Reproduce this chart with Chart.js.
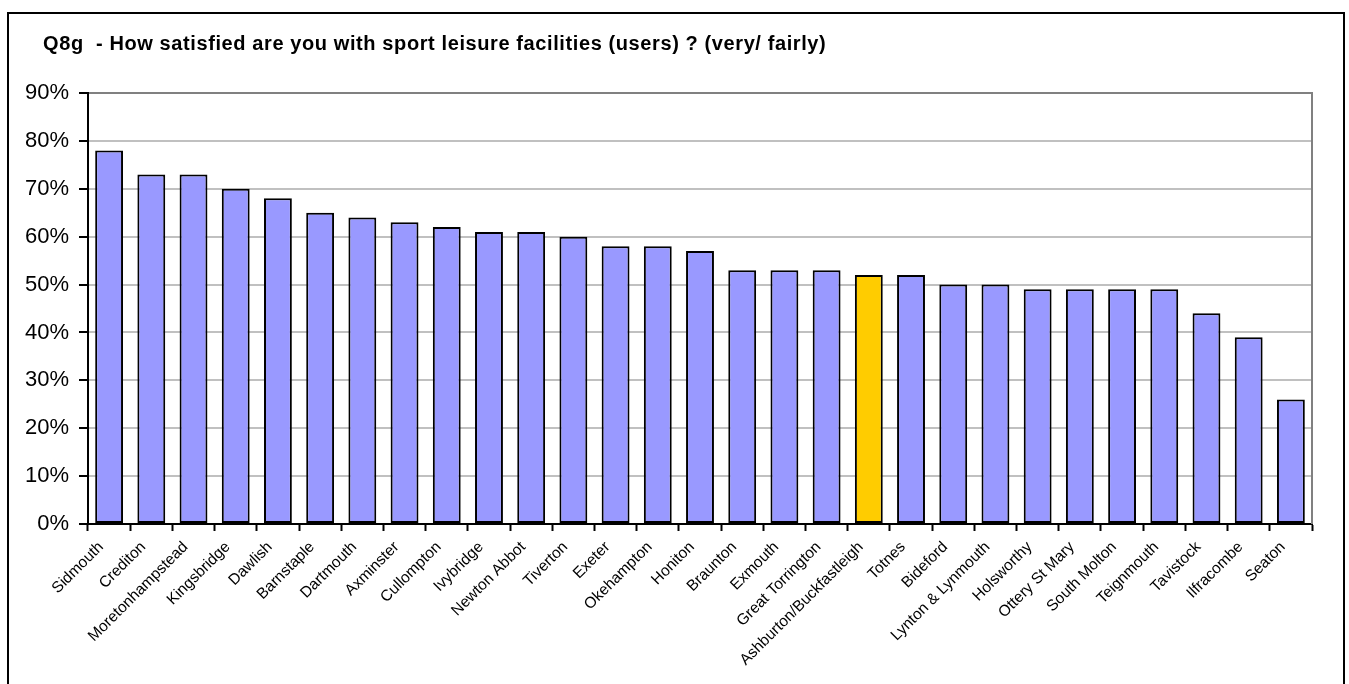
<!DOCTYPE html>
<html>
<head>
<meta charset="utf-8">
<title>Q8g sport leisure facilities</title>
<script src="https://cdn.jsdelivr.net/npm/chart.js@4"></script>
<style>
    html, body { margin: 0; padding: 0; background: #fff; overflow: hidden; }
    #frame {
        position: absolute; left: 7px; top: 12px;
        width: 1334px; height: 700px;
        border: 2px solid #000; border-bottom: none;
    }
    #chart { position: absolute; left: 0; top: 0; }
</style>
</head>
<body>
<div id="frame"></div>
<canvas id="chart" width="1349" height="684"></canvas>
<script>
const titleText = 'Q8g  - How satisfied are you with sport leisure facilities (users) ? (very/ fairly)';

const towns = [
    'Sidmouth', 'Crediton', 'Moretonhampstead', 'Kingsbridge', 'Dawlish', 'Barnstaple',
    'Dartmouth', 'Axminster', 'Cullompton', 'Ivybridge', 'Newton Abbot', 'Tiverton',
    'Exeter', 'Okehampton', 'Honiton', 'Braunton', 'Exmouth', 'Great Torrington',
    'Ashburton/Buckfastleigh', 'Totnes', 'Bideford', 'Lynton & Lynmouth', 'Holsworthy',
    'Ottery St Mary', 'South Molton', 'Teignmouth', 'Tavistock', 'Ilfracombe', 'Seaton'
];
const satisfied = [
    78, 73, 73, 70, 68, 65,
    64, 63, 62, 61, 61, 60,
    58, 58, 57, 53, 53, 53,
    52, 52, 50, 50, 49,
    49, 49, 49, 44, 39, 26
];
const highlightTown = 'Ashburton/Buckfastleigh';
const yTicks = [0, 10, 20, 30, 40, 50, 60, 70, 80, 90];

const font = '"Liberation Sans", Arial, sans-serif';
const barColour = '#9999ff';
const highlightColour = '#ffcc00';

// title and right-hand plot border
const extras = {
    id: 'extras',
    afterDraw(chart) {
        const ctx = chart.ctx;
        const a = chart.chartArea;
        ctx.save();
        ctx.strokeStyle = '#808080';
        ctx.lineWidth = 2;
        ctx.beginPath();
        ctx.moveTo(a.right, a.top - 1);
        ctx.lineTo(a.right, a.bottom);
        ctx.stroke();
        ctx.fillStyle = '#000';
        ctx.font = 'bold 20px ' + font;
        ctx.letterSpacing = '0.6px';
        ctx.textBaseline = 'alphabetic';
        ctx.fillText(titleText, 43, 50);
        ctx.restore();
    }
};

new Chart(document.getElementById('chart'), {
    type: 'bar',
    data: {
        labels: towns,
        datasets: [{
            data: satisfied,
            backgroundColor: towns.map(t => t === highlightTown ? highlightColour : barColour),
            borderColor: '#000',
            borderWidth: 2,
            borderSkipped: false,
            barPercentage: 0.66,
            categoryPercentage: 1
        }]
    },
    options: {
        responsive: false,
        devicePixelRatio: 1,
        animation: false,
        layout: { padding: { left: 0, right: 37, top: 93, bottom: 0 } },
        plugins: {
            legend: { display: false },
            tooltip: { enabled: false }
        },
        scales: {
            x: {
                afterFit: (s) => { s.height = 160; },
                grid: {
                    offset: true,
                    drawOnChartArea: false,
                    drawTicks: true,
                    tickLength: 7,
                    tickColor: '#000',
                    tickWidth: 2
                },
                border: { color: '#000', width: 2 },
                ticks: {
                    autoSkip: false,
                    maxRotation: 45,
                    minRotation: 45,
                    padding: 7,
                    labelOffset: -8,
                    color: '#000',
                    font: { family: font, size: 15.5 }
                }
            },
            y: {
                min: yTicks[0],
                max: yTicks[yTicks.length - 1],
                afterFit: (s) => { s.width = 88; },
                afterBuildTicks: (s) => { s.ticks = yTicks.map(v => ({ value: v })); },
                grid: {
                    color: (c) => c.tick && c.tick.value === 90 ? '#808080' : '#c0c0c0',
                    lineWidth: 2,
                    tickLength: 9,
                    tickColor: '#000',
                    tickWidth: 2
                },
                border: { color: '#000', width: 2 },
                ticks: {
                    padding: 10,
                    color: '#000',
                    font: { family: font, size: 22 },
                    callback: (v) => v + '%'
                }
            }
        }
    },
    plugins: [extras]
});
</script>
</body>
</html>
